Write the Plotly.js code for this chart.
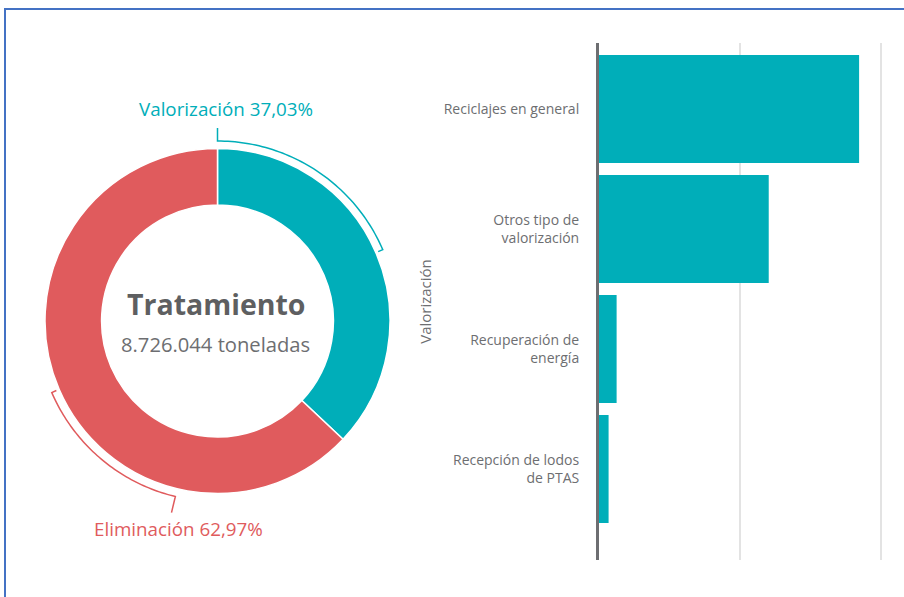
<!DOCTYPE html>
<html>
<head>
<meta charset="utf-8">
<script src="https://cdn.plot.ly/plotly-3.0.1.min.js"></script>
<style>html,body{margin:0;padding:0;background:#fff;}#chart{width:904px;height:597px;}</style>
</head>
<body>
<div id="chart"></div>
<script>
// ---- data ----
const donutLabels = ["Valorización", "Eliminación"];
const donutValues = [37.03, 62.97];
const totalTonnes = 8726044;
const centerTitle = "Tratamiento";
const barCategories = ["Reciclajes en general", "Otros tipo de<br>valorización", "Recuperación de<br>energía", "Recepción de lodos<br>de PTAS"];
const barValues = [1845000, 1204000, 125000, 68000];
const barAxisTitle = "Valorización";

// ---- styles ----
const TEAL = "#00AEB9", RED = "#E05B5D", GRAY = "#6D6E71", DARK = "#5E5F61";
const FONT = "'Open Sans', Lato, sans-serif";
const W = 904, H = 597;
const cx = 217.5, cy = 321, R = 172.5;

function fmtPct(v){ return v.toFixed(2).replace(".", ",") + "%"; }
function fmtInt(v){ return String(v).replace(/\B(?=(\d{3})+(?!\d))/g, "."); }
function px2paper(p){ return [p[0]/W, 1 - p[1]/H]; }
function polar(deg, r){ const a = deg*Math.PI/180; return [cx + r*Math.sin(a), cy - r*Math.cos(a)]; }
function arcPath(a0, a1, r, pre, post){
  const pts = [];
  if (pre) pts.push(pre);
  const n = 60;
  for (let i=0;i<=n;i++){ pts.push(polar(a0 + (a1-a0)*i/n, r)); }
  if (post) pts.push(post);
  return pts.map((p,i)=>{ const q = px2paper(p); return (i?"L":"M") + q[0].toFixed(5) + "," + q[1].toFixed(5); }).join(" ");
}

const total = donutValues.reduce((a,b)=>a+b,0);
const tealSpan = 360*donutValues[0]/total;
const redMid = tealSpan + 180*donutValues[1]/total;

const pie = {
  type: "pie",
  labels: donutLabels,
  values: donutValues,
  hole: 0.672,
  sort: false,
  direction: "clockwise",
  rotation: 0,
  textinfo: "none",
  hoverinfo: "skip",
  showlegend: false,
  marker: {colors: [TEAL, RED], line: {color: "#ffffff", width: 1.5}},
  domain: {x: [(cx-R)/W, (cx+R)/W], y: [1-(cy+R)/H, 1-(cy-R)/H]}
};

const bars = {
  type: "bar",
  orientation: "h",
  y: barCategories,
  x: barValues,
  marker: {color: TEAL, line: {width: 0}},
  width: 0.9,
  hoverinfo: "skip",
  showlegend: false,
  xaxis: "x",
  yaxis: "y"
};

const shapes = [
  {type: "rect", xref: "paper", yref: "paper", x0: 5/W, x1: 1.3, y0: -0.3, y1: 1-9/H,
   line: {color: "#4472C4", width: 2}, fillcolor: "rgba(0,0,0,0)", layer: "below"},
  {type: "path", xref: "paper", yref: "paper", line: {color: TEAL, width: 1.5},
   path: arcPath(0, tealSpan/2, 180, polar(0, 193), polar(tealSpan/2, 175))},
  {type: "path", xref: "paper", yref: "paper", line: {color: RED, width: 1.5},
   path: arcPath(redMid, 193.5, 180.5, polar(redMid, 175.5), polar(193.5, 197))}
];

const annotations = [
  {text: donutLabels[0] + " " + fmtPct(donutValues[0]), x: 226/W, y: 1-109/H, xref: "paper", yref: "paper",
   showarrow: false, xanchor: "center", yanchor: "middle", font: {family: FONT, size: 18.8, color: TEAL}},
  {text: donutLabels[1] + " " + fmtPct(donutValues[1]), x: 178/W, y: 1-529/H, xref: "paper", yref: "paper",
   showarrow: false, xanchor: "center", yanchor: "middle", font: {family: FONT, size: 18.8, color: RED}},
  {text: "<b>" + centerTitle + "</b>", x: 216.5/W, y: 1-304/H, xref: "paper", yref: "paper",
   showarrow: false, xanchor: "center", yanchor: "middle", font: {family: FONT, size: 28.5, color: DARK}},
  {text: fmtInt(totalTonnes) + " toneladas", x: 215.5/W, y: 1-344/H, xref: "paper", yref: "paper",
   showarrow: false, xanchor: "center", yanchor: "middle", font: {family: FONT, size: 20.2, color: GRAY}}
];

const layout = {
  width: W, height: H,
  margin: {l: 0, r: 0, t: 0, b: 0},
  paper_bgcolor: "#ffffff",
  plot_bgcolor: "rgba(0,0,0,0)",
  font: {family: FONT, color: GRAY},
  bargap: 0.1,
  xaxis: {
    domain: [599/W, 888/W],
    range: [0, 2.05e6],
    dtick: 1e6,
    showticklabels: false,
    showgrid: true,
    gridcolor: "#E3E3E3",
    gridwidth: 2,
    zeroline: false,
    showline: false,
    fixedrange: true
  },
  yaxis: {
    domain: [1-560/H, 1-43/H],
    type: "category",
    range: [3.758, -0.55],
    showline: true,
    linecolor: GRAY,
    linewidth: 3,
    showgrid: false,
    zeroline: false,
    ticks: "",
    ticklabelstandoff: 14,
    tickfont: {family: FONT, size: 14, color: GRAY},
    title: {text: barAxisTitle, font: {family: FONT, size: 15, color: GRAY}, standoff: 9},
    fixedrange: true
  },
  shapes: shapes,
  annotations: annotations
};

Plotly.newPlot("chart", [pie, bars], layout, {displayModeBar: false, staticPlot: true});
</script>
</body>
</html>
